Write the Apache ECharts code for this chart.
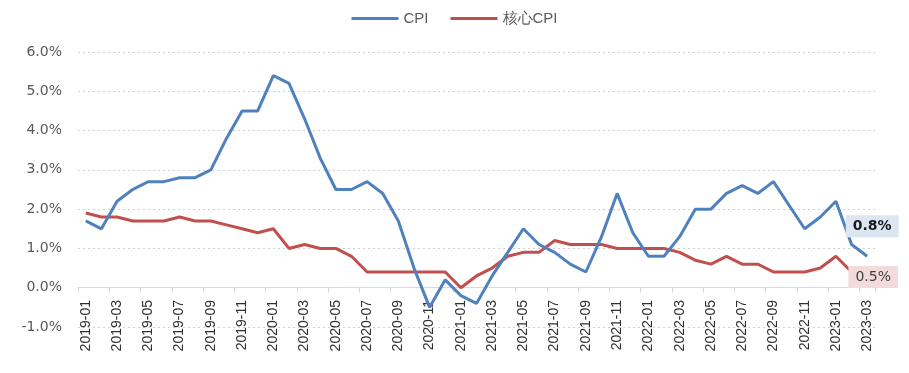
<!DOCTYPE html>
<html><head><meta charset="utf-8">
<script src="https://cdn.jsdelivr.net/npm/echarts@6/dist/echarts.min.js"></script>
<style>html,body{margin:0;padding:0;background:#fff}#c{width:909px;height:373px}</style>
</head><body><div id="c"></div>
<script>
var categories = [
'2019-01','2019-02','2019-03','2019-04','2019-05','2019-06','2019-07','2019-08','2019-09','2019-10','2019-11','2019-12',
'2020-01','2020-02','2020-03','2020-04','2020-05','2020-06','2020-07','2020-08','2020-09','2020-10','2020-11','2020-12',
'2021-01','2021-02','2021-03','2021-04','2021-05','2021-06','2021-07','2021-08','2021-09','2021-10','2021-11','2021-12',
'2022-01','2022-02','2022-03','2022-04','2022-05','2022-06','2022-07','2022-08','2022-09','2022-10','2022-11','2022-12',
'2023-01','2023-02','2023-03'];
var cpi = [
1.7,1.5,2.2,2.5,2.7,2.7,2.8,2.8,3.0,3.8,4.5,4.5,
5.4,5.2,4.3,3.3,2.5,2.5,2.7,2.4,1.7,0.5,-0.5,0.2,
-0.2,-0.4,0.3,0.9,1.5,1.1,0.9,0.6,0.4,1.3,2.4,1.4,
0.8,0.8,1.3,2.0,2.0,2.4,2.6,2.4,2.7,2.1,1.5,1.8,
2.2,1.1,0.8];
var coreCpi = [
1.9,1.8,1.8,1.7,1.7,1.7,1.8,1.7,1.7,1.6,1.5,1.4,
1.5,1.0,1.1,1.0,1.0,0.8,0.4,0.4,0.4,0.4,0.4,0.4,
0.0,0.3,0.5,0.8,0.9,0.9,1.2,1.1,1.1,1.1,1.0,1.0,
1.0,1.0,0.9,0.7,0.6,0.8,0.6,0.6,0.4,0.4,0.4,0.5,
0.8,0.4,0.5];
var seriesNames = ['CPI','核心CPI'];
var yMin = -1, yMax = 6, yStep = 1;

function withEndLabel(arr, labelOpt){
  return arr.map(function(v,i){
    if(i === arr.length-1){ return {value:v, label:labelOpt}; }
    return v;
  });
}
var chart = echarts.init(document.getElementById('c'));
chart.setOption({
  animation:false,
  textStyle:{fontFamily:'"DejaVu Sans", Verdana, sans-serif'},
  legend:{
    top:6, left:'center', itemWidth:47, itemHeight:3, itemGap:22, icon:'rect',
    textStyle:{fontSize:15, color:'#595959', fontFamily:'"Liberation Sans", Arial, sans-serif'},
    data:seriesNames
  },
  grid:{left:78, right:34, top:52, bottom:46, outerBoundsMode:'none', containLabel:false},
  xAxis:{
    type:'category', data:categories, boundaryGap:true,
    axisLine:{onZero:true, lineStyle:{color:'#d9d9d9', width:1}},
    axisTick:{show:true, interval:1, length:5, lineStyle:{color:'#d9d9d9'}},
    axisLabel:{interval:1, rotate:90, margin:-27, fontSize:14, color:'#303030', fontFamily:'"Liberation Sans", Arial, sans-serif'},
    splitLine:{show:false}
  },
  yAxis:{
    type:'value', min:yMin, max:yMax, interval:yStep,
    axisLine:{show:false}, axisTick:{show:false},
    axisLabel:{margin:16, fontSize:14, color:'#595959', formatter:function(v){return v.toFixed(1)+'%';}},
    splitLine:{show:true, lineStyle:{type:[2,3], color:'#d0d0d0', width:1}}
  },
  series:[
    {name:seriesNames[0], type:'line', symbol:'circle', symbolSize:0, showSymbol:true, showAllSymbol:true, z:3,
     lineStyle:{width:3, color:'#4F81BD'}, itemStyle:{color:'#4F81BD'},
     data:withEndLabel(cpi,{show:true, position:'inside', offset:[5,-30], formatter:function(p){return p.value.toFixed(1)+'%';},
       fontSize:14, fontWeight:'bold', color:'#1a1a1a', backgroundColor:'#dce6f2', padding:[4,7,4,7]})},
    {name:seriesNames[1], type:'line', symbol:'circle', symbolSize:0, showSymbol:true, showAllSymbol:true, z:2,
     lineStyle:{width:3, color:'#C0504D'}, itemStyle:{color:'#C0504D'},
     data:withEndLabel(coreCpi,{show:true, position:'inside', offset:[6,9], formatter:function(p){return p.value.toFixed(1)+'%';},
       fontSize:14, color:'#404040', backgroundColor:'#f2dcdb', padding:[4,7,4,7]})}
  ]
});
</script></body></html>
